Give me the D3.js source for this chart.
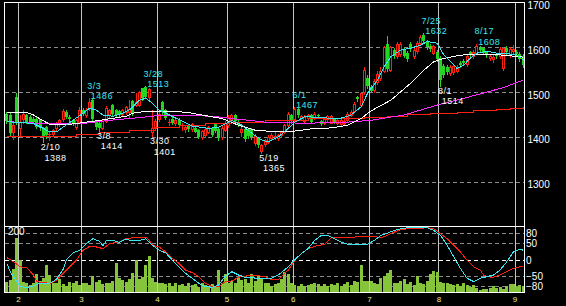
<!DOCTYPE html>
<html>
<head>
<meta charset="utf-8">
<script src="https://cdn.jsdelivr.net/npm/d3@7"></script>
<style>
  html, body { margin: 0; padding: 0; background: #000; }
  svg { display: block; }
</style>
</head>
<body>
<svg id="chart" width="566" height="306"></svg>
<script>
// ---- daily prices, one entry per trading day (index 0 = first candle) ----
const open = [1452,1450,1411,1490,1419,1439,1449,1445,1441,1441,1439,1419,1422,1404,1406,1419,1428,1439,1456,1445,
  1437,1422,1434,1461,1449,1464,1482,1434,1432,1420,1436,1448,1471,1460,1458,1452,1456,1455,1481,1471,
  1471,1509,1512,1488,1410,1419,1440,1478,1460,1432,1440,1430,1438,1424,1418,1424,1418,1420,1416,1400,
  1404,1411,1420,1428,1418,1400,1416,1426,1437,1449,1434,1410,1418,1418,1418,1386,1398,1368,1384,1388,
  1398,1400,1398,1404,1411,1426,1450,1440,1463,1442,1436,1442,1448,1442,1450,1436,1430,1440,1432,1440,
  1432,1428,1430,1438,1448,1458,1490,1472,1500,1532,1512,1504,1522,1532,1548,1608,1550,1594,1580,1584,
  1594,1588,1608,1580,1592,1610,1628,1612,1604,1588,1590,1576,1558,1556,1542,1544,1548,1566,1570,1562,
  1590,1580,1588,1600,1598,1590,1576,1574,1584,1580,1553,1598,1582,1592,1590,1586,1580];
const high = [1456,1454,1435,1498,1449,1460,1452,1448,1444,1444,1441,1422,1425,1412,1418,1434,1441,1462,1460,1448,
  1440,1440,1467,1465,1464,1486,1484,1438,1436,1440,1468,1463,1474,1463,1461,1463,1470,1482,1483,1497,
  1503,1510,1513,1510,1460,1440,1458,1480,1463,1440,1444,1442,1442,1430,1424,1428,1432,1424,1418,1416,
  1420,1424,1422,1432,1420,1424,1436,1450,1452,1452,1438,1422,1420,1420,1420,1406,1400,1385,1396,1404,
  1408,1410,1406,1414,1428,1456,1452,1467,1465,1450,1448,1452,1452,1456,1452,1438,1442,1448,1450,1442,
  1440,1442,1440,1456,1460,1478,1492,1500,1556,1538,1516,1530,1546,1556,1604,1626,1604,1598,1612,1612,
  1598,1592,1612,1600,1614,1628,1632,1616,1608,1606,1594,1580,1562,1560,1560,1562,1560,1570,1574,1584,
  1592,1594,1608,1602,1600,1592,1584,1582,1588,1600,1600,1602,1600,1606,1594,1590,1584];
const low = [1430,1404,1396,1428,1404,1430,1430,1430,1430,1420,1415,1388,1398,1393,1402,1414,1425,1436,1442,1436,
  1426,1418,1430,1448,1445,1460,1438,1418,1414,1417,1434,1442,1448,1444,1444,1449,1452,1445,1450,1468,
  1468,1482,1488,1485,1401,1415,1436,1450,1440,1426,1428,1426,1422,1415,1410,1414,1414,1410,1398,1396,
  1400,1408,1402,1412,1394,1396,1414,1422,1434,1432,1424,1402,1390,1398,1396,1382,1378,1365,1380,1386,
  1394,1396,1392,1400,1408,1422,1432,1436,1444,1438,1432,1438,1430,1440,1443,1426,1428,1436,1430,1430,
  1428,1425,1426,1436,1446,1456,1480,1470,1496,1510,1500,1500,1518,1528,1545,1548,1546,1576,1576,1580,
  1578,1570,1592,1576,1588,1606,1612,1596,1592,1584,1570,1514,1534,1540,1538,1540,1544,1556,1560,1558,
  1578,1576,1584,1590,1584,1578,1572,1568,1576,1576,1550,1586,1578,1588,1582,1570,1556];
const close = [1436,1408,1426,1434,1434,1452,1434,1434,1434,1422,1419,1402,1404,1406,1415,1431,1437,1458,1445,1440,
  1430,1437,1460,1452,1460,1478,1441,1422,1420,1436,1465,1460,1452,1449,1448,1460,1467,1462,1454,1478,
  1500,1487,1490,1507,1420,1435,1452,1455,1443,1434,1432,1438,1426,1427,1422,1418,1428,1412,1400,1414,
  1418,1422,1405,1414,1398,1420,1432,1445,1448,1436,1426,1418,1396,1402,1400,1402,1382,1382,1392,1400,
  1404,1402,1404,1412,1426,1452,1436,1462,1449,1446,1444,1448,1434,1452,1446,1428,1440,1446,1447,1434,
  1437,1438,1436,1452,1456,1474,1484,1497,1550,1514,1503,1524,1540,1548,1600,1552,1600,1580,1608,1608,
  1580,1574,1596,1594,1610,1624,1615,1600,1596,1602,1574,1528,1538,1544,1556,1558,1556,1560,1564,1580,
  1584,1590,1604,1594,1588,1582,1580,1578,1580,1596,1598,1590,1596,1596,1586,1574,1560];
// volume (scale top = 200)
const volume = [32,38,72,166,100,32,28,22,30,55,35,45,82,52,30,28,40,25,20,32,
  28,35,22,30,28,22,50,32,38,25,30,28,35,90,45,38,32,40,60,100,
  42,48,82,112,45,32,28,30,25,28,20,30,22,25,20,28,22,25,18,28,
  22,20,25,18,67,30,57,28,35,30,45,38,40,30,57,35,52,42,28,30,
  20,25,28,40,62,57,29,22,20,25,20,22,27,30,27,20,25,20,25,22,
  28,20,25,32,22,35,32,82,34,34,34,30,25,45,50,60,69,30,28,35,
  41,25,32,22,50,28,25,35,55,65,62,32,28,30,27,22,25,20,28,22,
  18,22,15,7,10,12,15,20,15,18,12,20,25,25,18,22,20];

// moving averages: [day index, price]
const ma5 = [[0,1434],[8,1430],[11,1419],[13,1411],[15,1411],[17,1422],[20,1437],[23,1453],[25,1464],[27,1460],
  [29,1449],[32,1446],[35,1453],[37,1460],[40,1482],[42,1486],[44,1475],[46,1460],[48,1453],[51,1442],
  [55,1428],[56,1424],[61,1419],[64,1422],[68,1437],[71,1426],[74,1408],[77,1393],[79,1389],[82,1400],
  [85,1419],[87,1433],[90,1445],[93,1444],[97,1442],[101,1442],[104,1449],[107,1467],[109,1498],[112,1527],
  [114,1557],[116,1579],[119,1594],[122,1598],[125,1605],[127,1613],[130,1609],[132,1583],[134,1568],[136,1553],
  [138,1560],[140,1576],[142,1587],[145,1591],[148,1587],[152,1585],[154,1583],[156,1572]];
const ma25 = [[0,1454],[6,1454],[8,1449],[10,1440],[13,1428],[19,1428],[22,1431],[28,1437],[36,1446],[38,1453],
  [42,1457],[51,1457],[55,1454],[65,1441],[70,1426],[75,1415],[82,1411],[87,1413],[93,1419],[98,1420],
  [103,1426],[107,1441],[110,1458],[116,1482],[122,1520],[126,1549],[129,1568],[132,1575],[136,1581],[140,1585],
  [146,1585],[152,1581],[156,1578]];
const ma75 = [[0,1434],[11,1430],[15,1429],[22,1429],[31,1437],[40,1443],[46,1448],[55,1448],[62,1446],[68,1441],
  [78,1433],[87,1431],[93,1431],[103,1433],[110,1437],[120,1449],[130,1471],[140,1490],[150,1510],[156,1527]];
const ma200 = [[0,1401],[21,1405],[28,1409],[37,1415],[45,1422],[52,1426],[60,1430],[68,1433],[78,1436],[91,1440],
  [108,1443],[115,1446],[121,1449],[128,1452],[136,1455],[141,1458],[148,1461],[152,1464],[156,1466]];

// oscillator (-100..100): fast (cyan) and slow (red) lines, [day index, value]
const oscFast = [[0,-12],[1,-37],[3,-67],[4,-82],[6,-85],[8,-80],[10,-72],[13,-72],[15,-60],[17,-30],
  [18,0],[20,20],[22,28],[24,48],[26,63],[28,55],[29,42],[30,56],[32,58],[34,52],
  [36,62],[38,56],[40,58],[42,63],[43,53],[44,43],[46,28],[48,20],[50,-2],[52,-22],
  [54,-42],[56,-57],[58,-72],[60,-82],[62,-84],[64,-77],[66,-50],[68,-37],[70,-47],[72,-54],
  [76,-57],[80,-57],[82,-47],[85,-22],[87,0],[89,18],[91,33],[93,58],[95,73],[97,73],
  [99,63],[101,53],[103,46],[109,46],[111,58],[113,73],[115,80],[117,88],[119,93],[121,96],
  [127,96],[129,88],[131,73],[133,43],[135,8],[137,-27],[139,-57],[141,-67],[143,-57],[145,-52],
  [147,-47],[149,-32],[151,-7],[153,23],[155,31],[156,28]];
const oscSlow = [[0,6],[2,-7],[4,-22],[6,-25],[8,-47],[9,-67],[11,-70],[13,-72],[15,-62],[17,-42],
  [19,-22],[21,-2],[23,28],[25,40],[27,38],[29,33],[31,48],[34,53],[36,63],[38,66],
  [40,68],[42,68],[43,58],[44,43],[46,38],[48,23],[50,3],[52,-12],[54,-32],[56,-40],
  [58,-52],[60,-72],[62,-82],[64,-82],[66,-67],[68,-65],[70,-54],[74,-47],[78,-52],[80,-62],
  [82,-62],[85,-32],[87,-3],[89,18],[91,33],[93,40],[96,46],[98,66],[103,66],[107,70],
  [111,70],[113,66],[115,73],[117,83],[119,90],[121,93],[127,96],[129,93],[131,78],[133,63],
  [135,43],[137,23],[139,-2],[141,-22],[143,-32],[144,-47],[145,-52],[147,-54],[149,-47],[151,-37],
  [153,-27],[155,-22],[156,-21]];

// month boundaries (first trading day index) and labels
const monthStart = [4, 23, 46, 67, 87, 110, 131, 154];
const monthLabel = ['2', '3', '4', '5', '6', '7', '8', '9'];

// peak / trough annotations
const markIdx = [11, 25, 28, 42, 44, 77, 87, 126, 131, 142];
const markDate = ['2/10', '3/3', '3/8', '3/28', '3/30', '5/19', '6/1', '7/25', '8/1', '8/17'];
const markPrice = [1388, 1486, 1414, 1513, 1401, 1365, 1467, 1632, 1514, 1608];
const markHigh = [false, true, false, true, false, false, true, true, false, true];

const priceTicks = [1300, 1400, 1500, 1600, 1700];
const oscTicks = [80, 50, 0, -50, -80];

// ---- layout ----
const L = 4.5, R = 524.5, T = 2.5, M = 226.5, B = 292.5;
const N = close.length;
const RED = '#ff2010', GREEN = '#22d622', CYAN = '#3ce6f0', MAGENTA = '#ff28ff', VOL = '#86c43c';
const FONT = '"Liberation Sans", Arial, sans-serif';

const x = d3.scaleLinear().domain([0, 156]).range([6.41, 522.77]);
const y = d3.scaleLinear().domain([1200, 1700]).range([M, T]);
const yOsc = d3.scaleLinear().domain([-100, 100]).range([B, M]);
const yVol = d3.scaleLinear().domain([0, 200]).range([B, M]);

const svg = d3.select('#chart').style('font-family', FONT);
svg.append('rect').attr('width', 566).attr('height', 306).attr('fill', '#000');

const defs = svg.append('defs');
defs.append('clipPath').attr('id', 'clipMain')
    .append('rect').attr('x', 5).attr('y', 3).attr('width', 519).attr('height', 223);
defs.append('clipPath').attr('id', 'clipSub')
    .append('rect').attr('x', 5).attr('y', 227).attr('width', 519).attr('height', 65);

const px = v => Math.round(v) + 0.5;

// ---- grid ----
const grid = svg.append('g').attr('shape-rendering', 'crispEdges');
grid.selectAll('line.pg')
    .data(priceTicks.filter(d => d < 1700))
    .join('line').attr('class', 'pg')
    .attr('x1', L).attr('x2', R)
    .attr('y1', d => px(y(d))).attr('y2', d => px(y(d)))
    .attr('stroke', '#8a8a8a').attr('stroke-dasharray', '4,3');
grid.selectAll('line.og')
    .data(oscTicks)
    .join('line').attr('class', 'og')
    .attr('x1', L).attr('x2', R)
    .attr('y1', d => px(yOsc(d))).attr('y2', d => px(yOsc(d)))
    .attr('stroke', d => d === 0 ? '#ffffff' : '#8a8a8a')
    .attr('stroke-dasharray', '4,3');

// volume bars sit under the month lines and oscillator
svg.append('g').attr('clip-path', 'url(#clipSub)').attr('shape-rendering', 'crispEdges')
    .selectAll('rect')
    .data(d3.range(N))
    .join('rect')
    .attr('x', i => Math.round(x(i)) - 1)
    .attr('width', 3)
    .attr('y', i => Math.round(yVol(volume[i])))
    .attr('height', i => B - Math.round(yVol(volume[i])))
    .attr('fill', VOL);

grid.selectAll('line.mg')
    .data(monthStart)
    .join('line').attr('class', 'mg')
    .attr('x1', d => px(x(d) - 1.65)).attr('x2', d => px(x(d) - 1.65))
    .attr('y1', T).attr('y2', B)
    .attr('stroke', '#c4c4c4');

// ---- candles ----
const candles = svg.append('g')
    .attr('clip-path', 'url(#clipMain)')
    .attr('shape-rendering', 'crispEdges');

candles.selectAll('g')
    .data(d3.range(N))
    .join('g')
    .each(function(i) {
        const g = d3.select(this);
        const cx = Math.round(x(i)) + 0.5;
        const yo = Math.round(y(open[i])), yc = Math.round(y(close[i]));
        const yh = Math.round(y(high[i])), yl = Math.round(y(low[i]));
        const bt = Math.min(yo, yc), bb = Math.max(yo, yc);
        const up = close[i] >= open[i];
        const col = up ? RED : GREEN;
        if (up && bb - bt >= 2) {
            // hollow up candle: wick above and below, outlined body
            g.append('line').attr('x1', cx).attr('x2', cx).attr('y1', yh).attr('y2', bt)
                .attr('stroke', col);
            g.append('line').attr('x1', cx).attr('x2', cx).attr('y1', bb + 1).attr('y2', yl + 1)
                .attr('stroke', col);
            g.append('rect')
                .attr('x', cx - 1).attr('y', bt + 0.5)
                .attr('width', 2).attr('height', bb - bt)
                .attr('fill', '#000').attr('stroke', col);
        } else {
            g.append('line').attr('x1', cx).attr('x2', cx).attr('y1', yh).attr('y2', yl + 1)
                .attr('stroke', col);
            g.append('rect')
                .attr('x', cx - 1.5).attr('y', bt)
                .attr('width', 3).attr('height', Math.max(bb - bt, 1))
                .attr('fill', col);
        }
    });

// ---- moving averages ----
const maLine = d3.line().x(d => x(d[0]) + 0.5).y(d => y(d[1]));
const maGroup = svg.append('g').attr('clip-path', 'url(#clipMain)')
    .attr('fill', 'none').attr('shape-rendering', 'crispEdges');
maGroup.append('path').attr('d', maLine.curve(d3.curveStepAfter)(ma200)).attr('stroke', RED);
maGroup.append('path').attr('d', maLine.curve(d3.curveLinear)(ma75)).attr('stroke', MAGENTA);
maGroup.append('path').attr('d', maLine(ma25)).attr('stroke', '#ffffff');
maGroup.append('path').attr('d', maLine(ma5)).attr('stroke', CYAN);

// ---- oscillator ----
const oscLine = d3.line().x(d => x(d[0]) + 0.5).y(d => yOsc(d[1]));
const oscGroup = svg.append('g').attr('clip-path', 'url(#clipSub)')
    .attr('fill', 'none').attr('shape-rendering', 'crispEdges');
oscGroup.append('path').attr('d', oscLine(oscSlow)).attr('stroke', RED);
oscGroup.append('path').attr('d', oscLine(oscFast)).attr('stroke', CYAN);

// ---- frames ----
const frame = svg.append('g').attr('fill', 'none').attr('stroke', '#ffffff')
    .attr('shape-rendering', 'crispEdges');
frame.append('rect').attr('x', L).attr('y', T).attr('width', R - L).attr('height', M - T);
frame.append('rect').attr('x', L).attr('y', M).attr('width', R - L).attr('height', B - M);

// ---- axes ----
const priceAxis = d3.axisRight(y).tickValues(priceTicks).tickSize(0).tickPadding(0)
    .tickFormat(d3.format('d'));
svg.append('g').attr('transform', 'translate(527.5,0)').call(priceAxis)
    .call(g => g.select('.domain').remove())
    .call(g => g.selectAll('text')
        .attr('fill', '#ffffff').attr('font-size', 10).attr('dy', '0.59em')
        .style('font-family', FONT));

const oscAxis = d3.axisRight(yOsc).tickValues(oscTicks).tickSize(0).tickPadding(0);
svg.append('g').attr('transform', 'translate(526,0)').call(oscAxis)
    .call(g => g.select('.domain').remove())
    .call(g => g.selectAll('text')
        .attr('fill', '#ffffff').attr('font-size', 10).attr('dy', '0.37em')
        .style('font-family', FONT));

const monthAxis = d3.axisBottom(x).tickValues(monthStart).tickSize(0).tickPadding(2.5)
    .tickFormat((d, k) => monthLabel[k]);
svg.append('g').attr('transform', 'translate(-1.65,' + (B + 1.5) + ')').call(monthAxis)
    .call(g => g.select('.domain').remove())
    .call(g => g.selectAll('text')
        .attr('fill', '#f0f08c').attr('font-size', 8)
        .style('font-family', FONT));

svg.append('text').attr('x', 8).attr('y', 235)
    .attr('fill', '#ffffff').attr('font-size', 10).text('200');

// ---- peak / trough labels ----
const LINE_GAP = 10.3;
const marks = svg.append('g').attr('font-size', 9).attr('letter-spacing', 0.5);
marks.selectAll('g')
    .data(d3.range(markIdx.length))
    .join('g')
    .each(function(k) {
        const g = d3.select(this);
        const cx = x(markIdx[k]);
        const yp = y(markPrice[k]);
        const col = markHigh[k] ? CYAN : '#ffffff';
        const dateY = markHigh[k] ? yp + 1 - LINE_GAP : yp + 8;
        const priceY = dateY + LINE_GAP;
        g.append('text').attr('x', cx - 2).attr('y', dateY).attr('fill', col).text(markDate[k]);
        g.append('text').attr('x', cx + 1.7).attr('y', priceY).attr('fill', col).text(markPrice[k]);
    });
</script>
</body>
</html>
